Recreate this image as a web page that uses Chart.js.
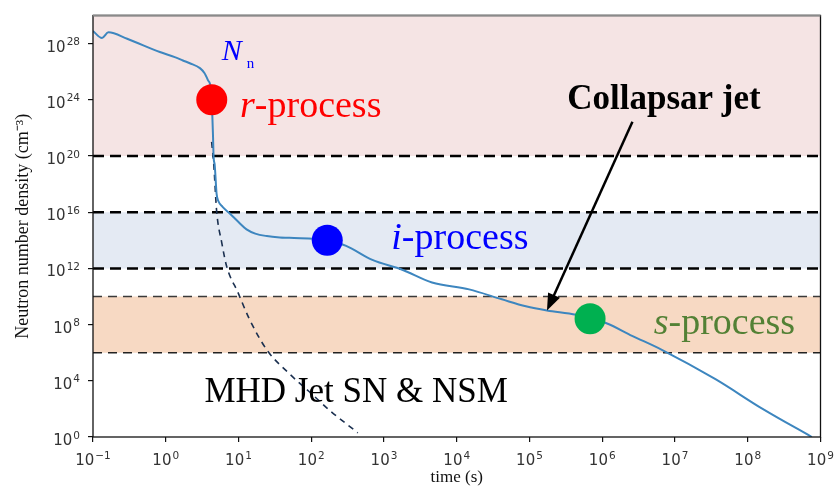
<!DOCTYPE html>
<html>
<head>
<meta charset="utf-8">
<script src="https://cdn.jsdelivr.net/npm/chart.js@4.4.1/dist/chart.umd.min.js"></script>
<style>
  html, body { margin: 0; padding: 0; background: #fff; }
</style>
</head>
<body>
<canvas id="neutron_density" width="836" height="493"></canvas>
<script>
// tick positions
var timeTicks = [1e-1, 1e0, 1e1, 1e2, 1e3, 1e4, 1e5, 1e6, 1e7, 1e8, 1e9];
var densityTicks = [1e0, 1e4, 1e8, 1e12, 1e16, 1e20, 1e24, 1e28];

// collapsar jet N_n(t)
var jetTime = [0.1, 0.133, 0.163, 0.295, 0.83, 1.33, 1.72, 2.14, 2.95, 3.4, 3.8, 4.17, 4.32, 4.47, 4.55, 4.7, 5.0, 5.3, 6.0, 7.6,
  10, 12.9, 17, 24.5, 37, 50, 166, 302, 692, 1780, 4570, 14800, 41700, 89000, 174000, 437000,
  1.12e6, 2.57e6, 6.6e6, 3.6e7, 1.6e8, 7.6e8];
var jetDensity = [7.9e28, 2.5e28, 6.3e28, 2.2e28, 2.5e27, 1.1e27, 6.3e26, 4e26, 1.8e26, 8e25, 2.5e25, 6.3e24, 4e23, 2e21, 8e19, 2.5e19, 2e17, 6e16, 2.5e16, 8e15,
  2e15, 6e14, 3e14, 2e14, 1.6e14, 1.5e14, 1e14, 4e13, 4e12, 8e11, 1e11, 3.2e10, 6.3e9, 2e9, 1e9, 5e8,
  1.3e8, 1.6e7, 1.6e6, 1.3e4, 100, 1];

// MHD jet SN & NSM
var mhdTime = [4.27, 4.57, 5.0, 5.9, 6.9, 9.8, 14.1, 24.5, 50, 95, 178, 436];
var mhdDensity = [1e21, 2.5e19, 1.3e16, 6.3e13, 1.3e12, 2e10, 2.5e8, 1.6e6, 3.2e4, 1.6e3, 80, 2];

// process markers (r, i, s)
var processNames = ['r', 'i', 's'];
var processTime = [4.29, 166, 6.8e5];
var processDensity = [1e24, 1e14, 2.6e8];
var processColors = ['#ff0000', '#0000ff', '#00b050'];

// density limits of the process bands
var rBand = [1e20, 1e30];
var iBand = [1e12, 1e16];
var sBand = [1e6, 1e10];
var timeRange = [1e-1, 1e9];

function pairs(xs, ys) {
  return xs.map(function (x, i) { return { x: x, y: ys[i] }; });
}
function edge(level) {
  return timeRange.map(function (t) { return { x: t, y: level }; });
}
function exponent(v) {
  return String(Math.round(Math.log10(v))).replace('-', '\u2212');
}

var serif = '"Liberation Serif", "Times New Roman", serif';
var sans = '"DejaVu Sans", sans-serif';

// 10^n tick labels with a real raised exponent, like matplotlib
var powerTicks = {
  id: 'powerTicks',
  afterDraw: function (chart) {
    var ctx = chart.ctx, a = chart.chartArea;
    ctx.save();
    ctx.fillStyle = '#333';
    ctx.textBaseline = 'alphabetic';
    ctx.textAlign = 'left';
    function label(v, x, y, anchor) {
      ctx.font = '15px ' + sans;
      var wb = ctx.measureText('10').width;
      var e = exponent(v);
      ctx.font = '10.5px ' + sans;
      var we = ctx.measureText(e).width;
      var left = anchor === 'right' ? x - wb - we - 1 : x - (wb + we + 1) / 2;
      ctx.font = '15px ' + sans;
      ctx.fillText('10', left, y);
      ctx.font = '10.5px ' + sans;
      ctx.fillText(e, left + wb + 1, y - 6.5);
    }
    chart.scales.x.ticks.forEach(function (t) {
      label(t.value, chart.scales.x.getPixelForValue(t.value), a.bottom + 28, 'center');
    });
    chart.scales.y.ticks.forEach(function (t) {
      label(t.value, a.left - 13, chart.scales.y.getPixelForValue(t.value) + 8, 'right');
    });
    ctx.restore();
  }
};

var decorations = {
  id: 'decorations',
  afterDatasetsDraw: function (chart) {
    var ctx = chart.ctx, xs = chart.scales.x, ys = chart.scales.y, a = chart.chartArea;
    function px(t) { return xs.getPixelForValue(t); }
    function py(d) { return ys.getPixelForValue(d); }
    ctx.save();

    // frame
    ctx.lineWidth = 1.3;
    ctx.strokeStyle = '#111';
    ctx.strokeRect(a.left, a.top, a.right - a.left, a.bottom - a.top);
    ctx.strokeStyle = '#8a8a8a';
    ctx.lineWidth = 2;
    ctx.beginPath(); ctx.moveTo(a.left, a.top); ctx.lineTo(a.right, a.top); ctx.stroke();

    function mixed(parts, x, y) {
      var cx = x;
      parts.forEach(function (p) {
        ctx.font = p[0];
        ctx.fillStyle = p[2];
        ctx.fillText(p[1], cx, y);
        cx += ctx.measureText(p[1]).width;
      });
      return cx;
    }
    ctx.textBaseline = 'alphabetic';
    ctx.textAlign = 'left';

    // N_n
    var nx = mixed([['italic 30px ' + serif, 'N', '#0000ff']], px(5.9), py(7e26));
    ctx.font = '15px ' + serif;
    ctx.fillText('n', nx + 5, py(7e26) + 8);

    mixed([['italic 38px ' + serif, 'r', '#ff0000'], ['38px ' + serif, '-process', '#ff0000']], px(10.5), py(6e22));
    mixed([['italic 38px ' + serif, 'i', '#0000ff'], ['38px ' + serif, '-process', '#0000ff']], px(1260), py(2.3e13));
    mixed([['italic 38px ' + serif, 's', '#538135'], ['38px ' + serif, '-process', '#538135']], px(5.1e6), py(2e7));
    mixed([['bold 35px ' + serif, 'Collapsar jet', '#000']], px(3.3e5), py(2.2e23));
    mixed([['35px ' + serif, 'MHD Jet SN & NSM', '#000']], px(3.4), py(290));

    // arrow to the collapsar jet curve
    var x0 = px(2.6e6), y0 = py(2.7e22), x1 = px(1.74e5), y1 = py(1e9);
    var ang = Math.atan2(y1 - y0, x1 - x0), head = 17;
    ctx.strokeStyle = '#000';
    ctx.fillStyle = '#000';
    ctx.lineWidth = 2.5;
    ctx.beginPath();
    ctx.moveTo(x0, y0);
    ctx.lineTo(x1 - head * 0.8 * Math.cos(ang), y1 - head * 0.8 * Math.sin(ang));
    ctx.stroke();
    ctx.beginPath();
    ctx.moveTo(x1, y1);
    ctx.lineTo(x1 - head * Math.cos(ang) + 6.5 * Math.sin(ang), y1 - head * Math.sin(ang) - 6.5 * Math.cos(ang));
    ctx.lineTo(x1 - head * Math.cos(ang) - 6.5 * Math.sin(ang), y1 - head * Math.sin(ang) + 6.5 * Math.cos(ang));
    ctx.closePath();
    ctx.fill();
    ctx.restore();
  }
};

var ctx = document.getElementById('neutron_density');
new Chart(ctx, {
  type: 'line',
  data: {
    datasets: [{
      label: 'r band', data: edge(rBand[0]), fill: 'end', backgroundColor: '#f5e4e4',
      borderColor: '#000', borderWidth: 2.5, borderDash: [11, 6], pointRadius: 0, order: 5
    }, {
      label: 'i band top', data: edge(iBand[1]), fill: '+1', backgroundColor: '#e4eaf3',
      borderColor: '#000', borderWidth: 2.5, borderDash: [11, 6], pointRadius: 0, order: 5
    }, {
      label: 'i band bottom', data: edge(iBand[0]), fill: false,
      borderColor: '#000', borderWidth: 2.5, borderDash: [11, 6], pointRadius: 0, order: 5
    }, {
      label: 's band top', data: edge(sBand[1]), fill: '+1', backgroundColor: '#f7d9c3',
      borderColor: '#3a3a3a', borderWidth: 1.6, borderDash: [9, 6], pointRadius: 0, order: 5
    }, {
      label: 's band bottom', data: edge(sBand[0]), fill: false,
      borderColor: '#222', borderWidth: 1.6, borderDash: [9, 6], pointRadius: 0, order: 5
    }, {
      label: 'MHD Jet SN & NSM', data: pairs(mhdTime, mhdDensity), fill: false,
      borderColor: '#1b3050', borderWidth: 1.6, borderDash: [6, 5], pointRadius: 0,
      cubicInterpolationMode: 'monotone', order: 3
    }, {
      label: 'Collapsar jet', data: pairs(jetTime, jetDensity), fill: false,
      borderColor: '#3d86bf', borderWidth: 2, pointRadius: 0,
      cubicInterpolationMode: 'monotone', order: 2
    }, {
      label: 'process', data: pairs(processTime, processDensity), showLine: false,
      pointRadius: 15.5, pointBorderWidth: 0, pointBackgroundColor: processColors,
      pointBorderColor: processColors, order: 1
    }]
  },
  options: {
    responsive: false,
    animation: false,
    layout: { padding: { left: 0, right: 14, top: 11, bottom: 0 } },
    plugins: {
      legend: { display: false },
      tooltip: { enabled: false },
      filler: { drawTime: 'beforeDatasetsDraw' }
    },
    scales: {
      x: {
        type: 'logarithmic', min: timeRange[0], max: timeRange[1],
        afterBuildTicks: function (s) { s.ticks = timeTicks.map(function (v) { return { value: v }; }); },
        afterFit: function (s) { s.height = 56; },
        ticks: { display: false, autoSkip: false },
        grid: { drawOnChartArea: false, tickLength: 5, color: '#111', lineWidth: 1.2 },
        border: { display: false },
        title: { display: true, text: 'time (s)', color: '#111', padding: { top: 0, bottom: 5 },
          font: { family: serif, size: 17 } }
      },
      y: {
        type: 'logarithmic', min: 1, max: rBand[1],
        afterBuildTicks: function (s) { s.ticks = densityTicks.map(function (v) { return { value: v }; }); },
        afterFit: function (s) { s.width = 93; },
        ticks: { display: false, autoSkip: false },
        grid: { drawOnChartArea: false, tickLength: 5, color: '#111', lineWidth: 1.2 },
        border: { display: false },
        title: { display: true, text: 'Neutron number density (cm⁻³)', color: '#111', padding: { top: 12, bottom: 0 },
          font: { family: serif, size: 18 } }
      }
    }
  },
  plugins: [decorations, powerTicks]
});
</script>
</body>
</html>
